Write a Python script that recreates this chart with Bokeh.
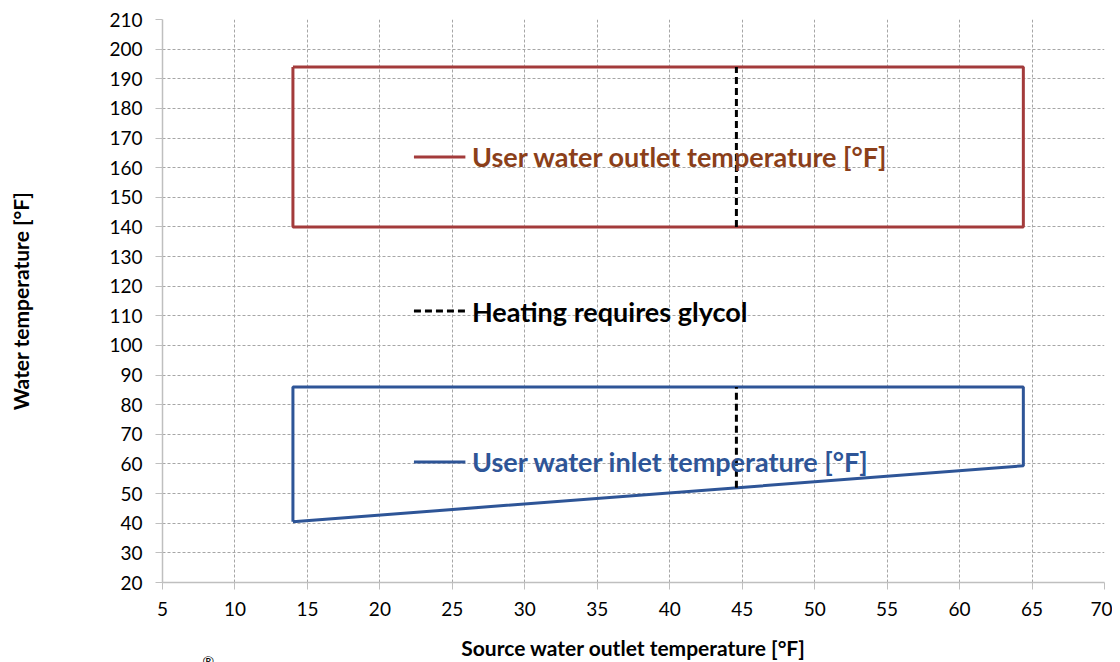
from bokeh.plotting import figure
from bokeh.models import Label, Range1d, FixedTicker, Title
from bokeh.embed import file_html
from bokeh.resources import INLINE

# Data
outlet_x = [14, 64.4, 64.4, 14, 14]
outlet_y = [194, 194, 140, 140, 194]
inlet_x = [14, 14, 64.4, 64.4, 14]
inlet_y = [40.5, 86, 86, 59.4, 40.5]
glycol_x = 44.6
glycol_upper = [140, 194]
glycol_lower = [51.97, 86]
x_ticks = list(range(5, 71, 5))
y_ticks = list(range(20, 211, 10))

RED = "#A33B3B"
RED_TXT = "#8B3F1A"
BLUE = "#2E5597"
FONT = "Lato"

p = figure(width=1112, height=662, output_backend="svg", toolbar_location=None,
           x_range=Range1d(5, 70), y_range=Range1d(20, 210),
           min_border_left=162, min_border_right=8, min_border_top=19, min_border_bottom=79)
p.outline_line_color = None

p.line(outlet_x, outlet_y, line_color=RED, line_width=3)
p.line(inlet_x, inlet_y, line_color=BLUE, line_width=3)
p.line([glycol_x, glycol_x], glycol_upper, line_color="black", line_width=3, line_dash="7 4")
p.line([glycol_x, glycol_x], glycol_lower, line_color="black", line_width=3, line_dash="7 4")

# in-plot keys
p.line([22.35, 25.9], [163.6, 163.6], line_color=RED, line_width=3)
p.line([22.35, 25.9], [111.6, 111.6], line_color="black", line_width=3, line_dash="7 4")
p.line([22.35, 25.9], [60.7, 60.7], line_color=BLUE, line_width=3)
for y, txt, col in [(163.6, "User water outlet temperature [°F]", RED_TXT),
                    (111.6, "Heating requires glycol", "black"),
                    (60.7, "User water inlet temperature [°F]", BLUE)]:
    p.add_layout(Label(x=26.35, y=y, text=txt, text_color=col, text_font=FONT,
                       text_font_style="bold", text_font_size="27px", text_baseline="middle"))

for ax in (p.xaxis, p.yaxis):
    ax.axis_line_color = "#BFBFBF"
    ax.axis_line_width = 1.5
    ax.major_tick_line_color = "#BFBFBF"
    ax.major_tick_out = 7
    ax.major_tick_in = 0
    ax.minor_tick_line_color = None
    ax.major_label_text_font = FONT
    ax.major_label_text_font_size = "19px"
    ax.major_label_text_color = "black"
    ax.axis_label_text_font = FONT
    ax.axis_label_text_font_style = "bold"
    ax.axis_label_text_font_size = "21px"
    ax.axis_label_text_color = "black"

p.xaxis.ticker = FixedTicker(ticks=x_ticks)
p.yaxis.ticker = FixedTicker(ticks=y_ticks)
p.xaxis.axis_label = "Source water outlet temperature [°F]"
p.yaxis.axis_label = "Water temperature [°F]"
p.xaxis.major_label_standoff = 12
p.xaxis.axis_label_standoff = 16
p.yaxis.major_label_standoff = 13
p.yaxis.axis_label_standoff = 73

p.xgrid.ticker = FixedTicker(ticks=x_ticks)
p.ygrid.ticker = FixedTicker(ticks=y_ticks)
for g in (p.xgrid, p.ygrid):
    g.grid_line_color = "#A6A6A6"
    g.grid_line_dash = "3 2"
    g.grid_line_width = 1

p.add_layout(Title(text="®", align="left", vertical_align="top", offset=40, standoff=-22,
                   text_font=FONT, text_font_size="14px", text_font_style="normal",
                   text_color="black"), "below")

open("out.html", "w").write(file_html(p, INLINE))
